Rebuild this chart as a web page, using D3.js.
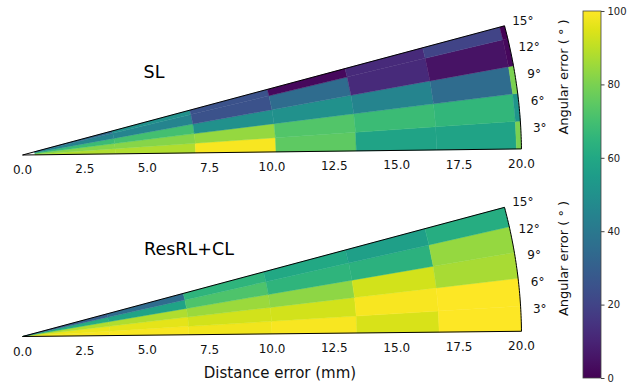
<!DOCTYPE html>
<html>
<head>
<meta charset="utf-8">
<script src="https://cdn.jsdelivr.net/npm/d3@7"></script>
<style>
  body { margin: 0; background: #fff; }
  svg { display: block; font-family: "DejaVu Sans", sans-serif; }
</style>
</head>
<body>
<div id="chart"></div>
<script>
// bin edges (distance in mm, angle in degrees) and cell values (rows = angle bins, bottom -> top)
const rEdgesSL = [0.5, 3.72, 6.94, 10.16, 13.38, 16.6, 19.8, 20];
const tEdgesSL = [0.7, 3.9, 7.1, 10.3, 13.5, 15];
const valuesSL = [
  [88, 88, 99, 75, 58, 58, 80],
  [82, 82, 84, 73, 68, 66, 52],
  [68, 70, 50, 50, 45, 35, 80],
  [45, 45, 25, 35, 12, 5, 2],
  [35, 50, 25, 2, 12, 20, 0]
];

const rEdgesRes = [0, 3.5, 6.67, 10, 13.4, 16.7, 20];
const tEdgesRes = [0.6, 3.5, 6.7, 9.7, 12.7, 15];
const valuesRes = [
  [99, 99, 98, 99, 94, 100],
  [97, 96, 93, 93, 99, 100],
  [88, 88, 85, 83, 93, 87],
  [62, 58, 72, 65, 64, 84],
  [30, 35, 65, 60, 56, 62]
];

const rTicks = [0, 2.5, 5, 7.5, 10, 12.5, 15, 17.5, 20];
const thetaTicks = [3, 6, 9, 12, 15];
const cbarTicks = [0, 20, 40, 60, 80, 100];

const width = 637, height = 383;
const ox = 22.5;
const rMax = 20, thetaMax = 15;

const panels = [
  { title: "SL", oy: 155, titleX: 154, titleY: 72, rEdges: rEdgesSL, tEdges: tEdgesSL, values: valuesSL },
  { title: "ResRL+CL", oy: 336.5, titleX: 189, titleY: 249, rEdges: rEdgesRes, tEdges: tEdgesRes, values: valuesRes }
];

const rScale = d3.scaleLinear().domain([0, rMax]).range([0, 499]);
const color = d3.scaleSequential(d3.interpolateViridis).domain([0, 100]);

const svg = d3.select("#chart").append("svg")
  .attr("width", width)
  .attr("height", height);

function pt(oy, r, deg) {
  const a = deg * Math.PI / 180;
  return [ox + rScale(r) * Math.cos(a), oy - rScale(r) * Math.sin(a)];
}

panels.forEach(p => {
  const g = svg.append("g");
  const tMin = p.tEdges[0];

  // cells as straight-edged quads
  const cells = [];
  p.values.forEach((row, i) => {
    row.forEach((v, j) => {
      cells.push({ r0: p.rEdges[j], r1: p.rEdges[j + 1], t0: p.tEdges[i], t1: p.tEdges[i + 1], v });
    });
  });

  g.selectAll("path.cell").data(cells)
    .join("path")
    .classed("cell", true)
    .attr("d", d => "M" + [pt(p.oy, d.r0, d.t0), pt(p.oy, d.r1, d.t0), pt(p.oy, d.r1, d.t1), pt(p.oy, d.r0, d.t1)].join("L") + "Z")
    .attr("fill", d => color(d.v))
    .attr("stroke", d => color(d.v))
    .attr("stroke-width", 0.4);

  // outline of the wedge
  const arcPts = d3.range(0, 41).map(k => pt(p.oy, rMax, tMin + (thetaMax - tMin) * k / 40));
  g.append("path")
    .attr("d", "M" + [pt(p.oy, 0, 0), ...arcPts].join("L") + "Z")
    .attr("fill", "none")
    .attr("stroke", "#000")
    .attr("stroke-width", 1)
    .attr("stroke-linejoin", "round");

  // radial tick labels along the lower edge
  g.selectAll("text.rtick").data(rTicks)
    .join("text")
    .classed("rtick", true)
    .attr("x", d => pt(p.oy, d, tMin)[0])
    .attr("y", d => pt(p.oy, d, tMin)[1] + 15)
    .attr("text-anchor", "middle")
    .attr("dominant-baseline", "central")
    .attr("font-size", 12)
    .attr("fill", "#111")
    .text(d => d.toFixed(1));

  // angular tick labels
  g.selectAll("text.ttick").data(thetaTicks)
    .join("text")
    .classed("ttick", true)
    .attr("x", d => { const a = d * Math.PI / 180; return ox + 518 * Math.cos(a); })
    .attr("y", d => { const a = d * Math.PI / 180; return p.oy - 518 * Math.sin(a); })
    .attr("text-anchor", "middle")
    .attr("dominant-baseline", "central")
    .attr("font-size", 12)
    .attr("fill", "#111")
    .text(d => d + "°");

  g.append("text")
    .attr("x", p.titleX)
    .attr("y", p.titleY)
    .attr("text-anchor", "middle")
    .attr("dominant-baseline", "central")
    .attr("font-size", 17.5)
    .attr("fill", "#000")
    .text(p.title);

  g.append("text")
    .attr("transform", `translate(563, ${p.oy - 78}) rotate(-90)`)
    .attr("text-anchor", "middle")
    .attr("dominant-baseline", "central")
    .attr("font-size", 13)
    .attr("fill", "#111")
    .text("Angular error ( ° )");
});

svg.append("text")
  .attr("x", 280)
  .attr("y", 373)
  .attr("text-anchor", "middle")
  .attr("dominant-baseline", "central")
  .attr("font-size", 15)
  .attr("fill", "#111")
  .text("Distance error (mm)");

// colorbar
const cbX = 583, cbW = 18, cbTop = 11, cbBottom = 378;
const defs = svg.append("defs");
const grad = defs.append("linearGradient")
  .attr("id", "viridis")
  .attr("x1", 0).attr("y1", 1).attr("x2", 0).attr("y2", 0);
d3.range(0, 1.0001, 0.05).forEach(t => {
  grad.append("stop").attr("offset", t).attr("stop-color", d3.interpolateViridis(t));
});
svg.append("rect")
  .attr("x", cbX).attr("y", cbTop)
  .attr("width", cbW).attr("height", cbBottom - cbTop)
  .attr("fill", "url(#viridis)")
  .attr("stroke", "#444")
  .attr("stroke-width", 0.8);

const cbScale = d3.scaleLinear().domain([0, 100]).range([cbBottom, cbTop]);
svg.append("g")
  .attr("transform", `translate(${cbX + cbW}, 0)`)
  .call(d3.axisRight(cbScale).tickValues(cbarTicks).tickSize(3.5).tickPadding(3))
  .call(a => a.select(".domain").remove())
  .call(a => a.selectAll("text").attr("font-size", 10).attr("fill", "#222").attr("font-family", "DejaVu Sans"))
  .call(a => a.selectAll("line").attr("stroke", "#444"));
</script>
</body>
</html>
